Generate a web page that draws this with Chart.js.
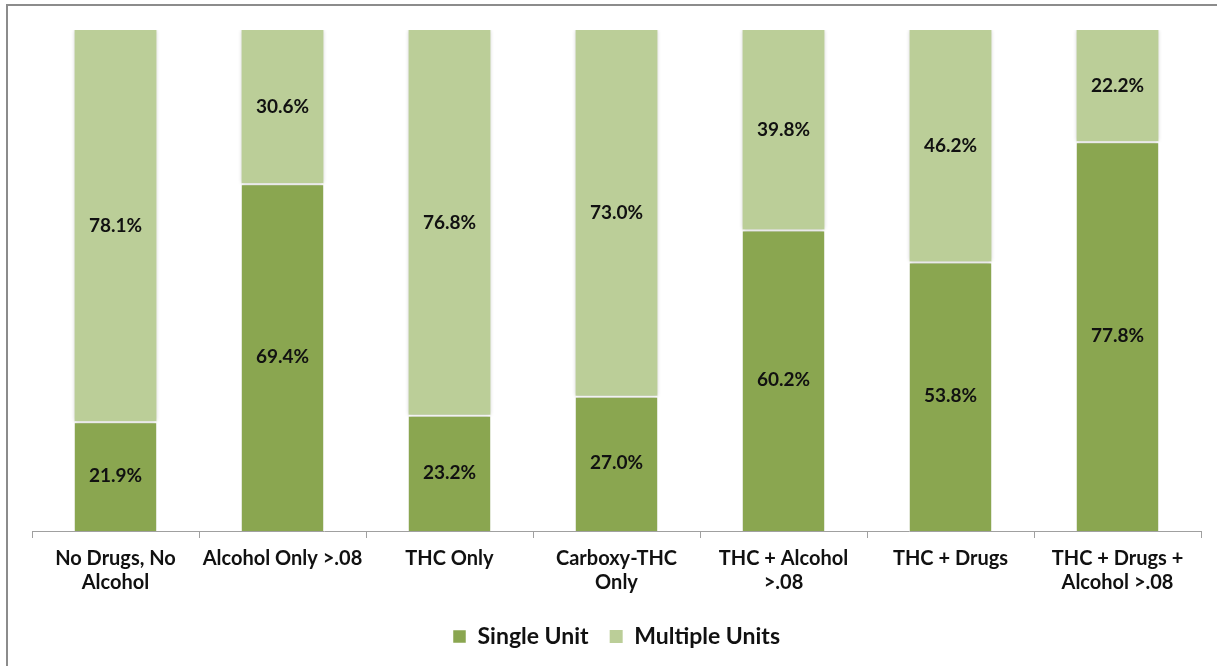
<!DOCTYPE html>
<html>
<head>
<meta charset="utf-8">
<script src="https://cdn.jsdelivr.net/npm/chart.js@4"></script>
<style>
    html, body { margin: 0; padding: 0; background: #fff; overflow: hidden; }
    #wrap { position: absolute; left: 0; top: 0; width: 1217px; height: 666px; }
    #frame { position: absolute; left: 6px; top: 4px; width: 1400px; height: 900px; border: 2px solid #8c8c8c; box-sizing: border-box; }
    canvas { position: absolute; left: 0; top: 0; }
</style>
</head>
<body>
<div id="wrap">
    <div id="frame"></div>
    <canvas id="chart" width="1217" height="666"></canvas>
</div>
<script>
const categories = [
    ['No Drugs, No', 'Alcohol'],
    'Alcohol Only >.08',
    'THC Only',
    ['Carboxy-THC', 'Only'],
    ['THC + Alcohol', '>.08'],
    'THC + Drugs',
    ['THC + Drugs +', 'Alcohol >.08']
];
const singleUnit = [21.9, 69.4, 23.2, 27.0, 60.2, 53.8, 77.8];
const multipleUnits = [78.1, 30.6, 76.8, 73.0, 39.8, 46.2, 22.2];

const darkGreen = '#8aa650';
const lightGreen = '#bbce98';
const fontFamily = 'Lato, "Open Sans", sans-serif';

// soft shadow round the bars, like the office chart
const barShadow = {
    id: 'barShadow',
    beforeDatasetsDraw(chart) {
        const ctx = chart.ctx;
        ctx.save();
        ctx.shadowColor = 'rgba(0,0,0,0.22)';
        ctx.shadowBlur = 4;
    },
    afterDatasetsDraw(chart) {
        chart.ctx.restore();
    }
};

// percentage labels in the middle of each segment
const segmentLabels = {
    id: 'segmentLabels',
    afterDatasetsDraw(chart) {
        const ctx = chart.ctx;
        ctx.save();
        ctx.font = 'bold 19px ' + fontFamily;
        ctx.fillStyle = '#111';
        ctx.textAlign = 'center';
        ctx.textBaseline = 'middle';
        chart.data.datasets.forEach((ds, i) => {
            chart.getDatasetMeta(i).data.forEach((bar, j) => {
                const y = (bar.y + bar.base) / 2;
                ctx.fillText(ds.data[j].toFixed(1) + '%', bar.x, y);
            });
        });
        ctx.restore();
    }
};

new Chart(document.getElementById('chart'), {
    type: 'bar',
    data: {
        labels: categories,
        datasets: [
            {
                label: 'Single Unit',
                data: singleUnit,
                backgroundColor: darkGreen,
                borderColor: '#fff',
                borderWidth: { top: 2, left: 0, right: 0, bottom: 0 },
                borderSkipped: false
            },
            {
                label: 'Multiple Units',
                data: multipleUnits,
                backgroundColor: lightGreen,
                borderColor: '#fff',
                borderWidth: 0
            }
        ]
    },
    options: {
        responsive: false,
        animation: false,
        categoryPercentage: 1,
        barPercentage: 0.49,
        layout: { padding: { left: 32, right: 16, top: 30, bottom: 8 } },
        plugins: {
            tooltip: { enabled: false },
            legend: {
                position: 'bottom',
                labels: {
                    boxWidth: 13,
                    boxHeight: 13,
                    padding: 21,
                    color: '#111',
                    font: { family: fontFamily, size: 23, weight: 'bold' }
                }
            }
        },
        scales: {
            x: {
                stacked: true,
                grid: {
                    display: true,
                    offset: true,
                    drawOnChartArea: false,
                    drawTicks: true,
                    tickLength: 7,
                    color: '#a0a0a0'
                },
                border: { display: true, color: '#a0a0a0', width: 1 },
                ticks: {
                    maxRotation: 0,
                    autoSkip: false,
                    padding: 9,
                    color: '#111',
                    font: { family: fontFamily, size: 20, weight: 'bold', lineHeight: 1.2 }
                }
            },
            y: {
                stacked: true,
                display: false,
                min: 0,
                max: 100
            }
        }
    },
    plugins: [barShadow, segmentLabels]
});
</script>
</body>
</html>
